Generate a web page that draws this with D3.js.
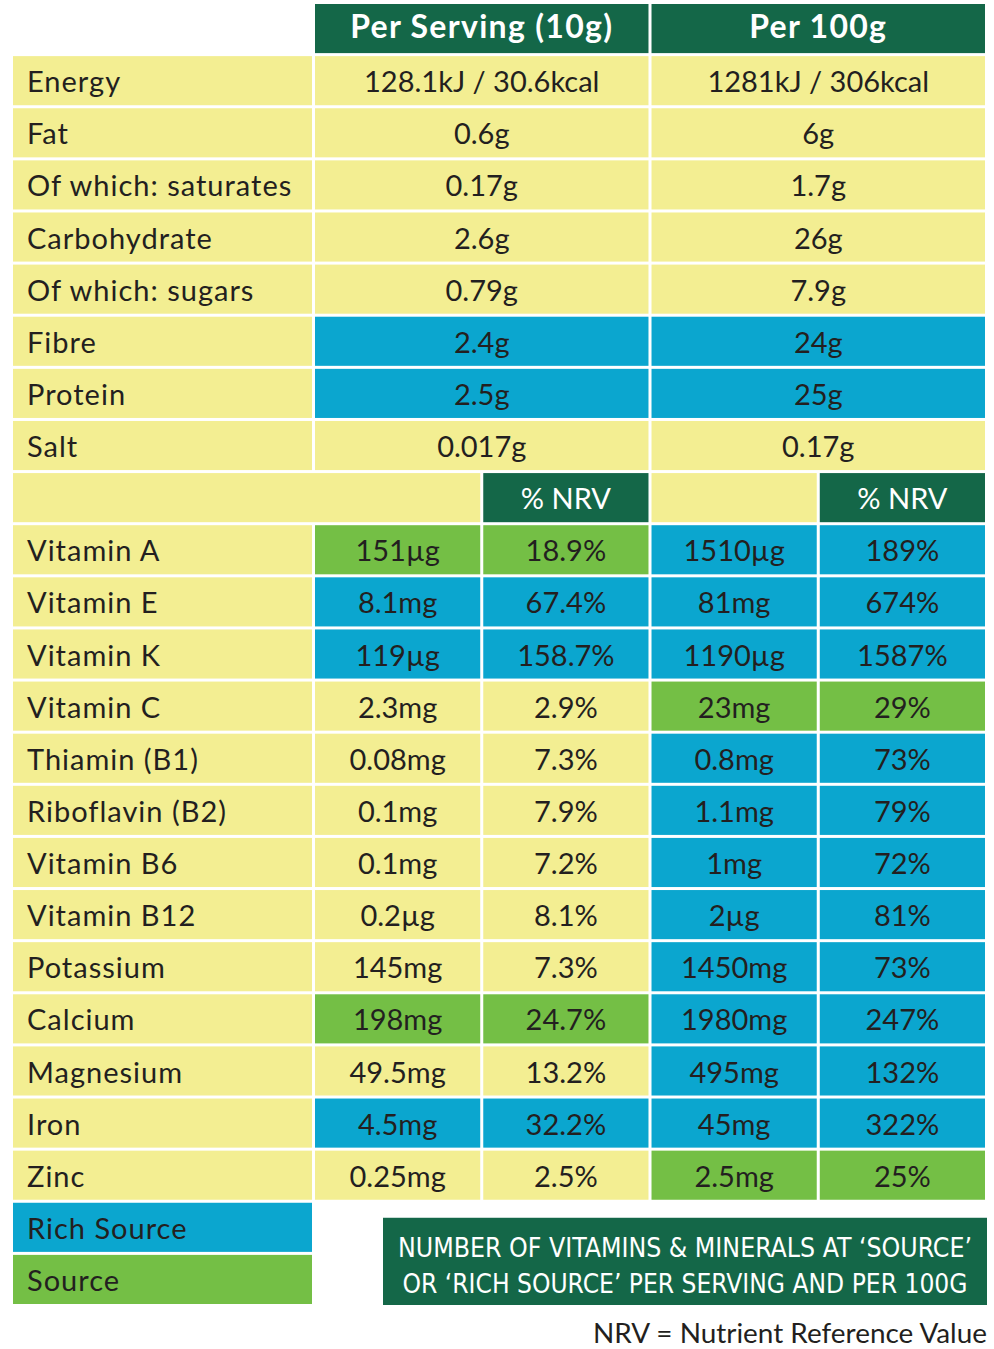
<!DOCTYPE html>
<html>
<head>
	<meta charset="utf-8">
	<script src="https://cdn.jsdelivr.net/npm/d3@7/dist/d3.min.js"></script>
	<style>
		body { margin: 0; background: #fff; }
		text { font-family: Lato, "Open Sans", sans-serif; fill: #231f20; }
		.head { fill: #fff; font-weight: bold; letter-spacing: 1.3px; }
		.nrv { fill: #fff; }
		.label { letter-spacing: 1px; }
		.box { fill: #fff; font-family: "Liberation Sans Narrow", "DejaVu Sans Condensed", sans-serif; }
	</style>
</head>
<body>
	<svg></svg>
	<script>

		// nutrition rows
		var nutrients = ["Energy", "Fat", "Of which: saturates", "Carbohydrate", "Of which: sugars", "Fibre", "Protein", "Salt"];
		var perServing = ["128.1kJ / 30.6kcal", "0.6g", "0.17g", "2.6g", "0.79g", "2.4g", "2.5g", "0.017g"];
		var per100g = ["1281kJ / 306kcal", "6g", "1.7g", "26g", "7.9g", "24g", "25g", "0.17g"];
		var nutrientLevel = ["", "", "", "", "", "rich", "rich", ""];

		// vitamins & minerals
		var vitamins = ["Vitamin A", "Vitamin E", "Vitamin K", "Vitamin C", "Thiamin (B1)", "Riboflavin (B2)", "Vitamin B6", "Vitamin B12", "Potassium", "Calcium", "Magnesium", "Iron", "Zinc"];
		var servingAmount = ["151\u00b5g", "8.1mg", "119\u00b5g", "2.3mg", "0.08mg", "0.1mg", "0.1mg", "0.2\u00b5g", "145mg", "198mg", "49.5mg", "4.5mg", "0.25mg"];
		var servingNrv = ["18.9%", "67.4%", "158.7%", "2.9%", "7.3%", "7.9%", "7.2%", "8.1%", "7.3%", "24.7%", "13.2%", "32.2%", "2.5%"];
		var servingLevel = ["source", "rich", "rich", "", "", "", "", "", "", "source", "", "rich", ""];
		var amount100g = ["1510\u00b5g", "81mg", "1190\u00b5g", "23mg", "0.8mg", "1.1mg", "1mg", "2\u00b5g", "1450mg", "1980mg", "495mg", "45mg", "2.5mg"];
		var nrv100g = ["189%", "674%", "1587%", "29%", "73%", "79%", "72%", "81%", "73%", "247%", "132%", "322%", "25%"];
		var level100g = ["rich", "rich", "rich", "source", "rich", "rich", "rich", "rich", "rich", "rich", "rich", "rich", "source"];

		var headers = ["Per Serving (10g)", "Per 100g"];
		var legend = [["Rich Source", "rich"], ["Source", "source"]];
		var boxLines = ["NUMBER OF VITAMINS & MINERALS AT \u2018SOURCE\u2019", "OR \u2018RICH SOURCE\u2019 PER SERVING AND PER 100G"];
		var footnote = "NRV = Nutrient Reference Value";

		var colors = { "": "#f3ee92", rich: "#0ba6cf", source: "#74bf45", dark: "#146748" };

		var width = 994, height = 1349;
		var svg = d3.select("svg").attr("width", width).attr("height", height);

		// rows: header, nutrients, nrv header, vitamins, legend
		var rowKeys = ["head"].concat(nutrients, ["nrv"], vitamins, legend.map(d => d[0]));
		var y = d3.scaleBand().domain(rowKeys).range([4, 4 + rowKeys.length * 52]).paddingInner(3 / 52);
		var x = d3.scaleBand().domain([0, 1, 2, 3]).range([315, 985]).paddingInner(0.018);
		var labelX0 = 13, labelX1 = 312;

		function cell(x0, x1, row, fill, txt, cls, anchor) {
			svg.append("rect").attr("x", x0).attr("y", y(row)).attr("width", x1 - x0).attr("height", y.bandwidth()).attr("fill", fill);
			if (txt) {
				svg.append("text")
					.attr("class", cls || null)
					.attr("x", anchor == "start" ? x0 + 14 : (x0 + x1) / 2)
					.attr("y", y(row) + y.bandwidth() - (cls == "head" ? 15 : 13))
					.attr("text-anchor", anchor || "middle")
					.attr("font-size", cls == "head" ? 32 : 29)
					.text(txt);
			}
		}
		function right(i) { return x(i) + x.bandwidth(); }

		// header
		headers.forEach((h, i) => cell(x(i * 2), right(i * 2 + 1), "head", colors.dark, h, "head"));

		nutrients.forEach((n, i) => {
			cell(labelX0, labelX1, n, colors[""], n, "label", "start");
			cell(x(0), right(1), n, colors[nutrientLevel[i]], perServing[i]);
			cell(x(2), right(3), n, colors[nutrientLevel[i]], per100g[i]);
		});

		cell(labelX0, right(0), "nrv", colors[""]);
		cell(x(1), right(1), "nrv", colors.dark, "% NRV", "nrv");
		cell(x(2), right(2), "nrv", colors[""]);
		cell(x(3), right(3), "nrv", colors.dark, "% NRV", "nrv");

		vitamins.forEach((v, i) => {
			cell(labelX0, labelX1, v, colors[""], v, "label", "start");
			cell(x(0), right(0), v, colors[servingLevel[i]], servingAmount[i]);
			cell(x(1), right(1), v, colors[servingLevel[i]], servingNrv[i]);
			cell(x(2), right(2), v, colors[level100g[i]], amount100g[i]);
			cell(x(3), right(3), v, colors[level100g[i]], nrv100g[i]);
		});

		legend.forEach(l => cell(labelX0, labelX1, l[0], colors[l[1]], l[0], "label", "start"));

		// summary box
		var boxTop = y("Rich Source") + 15, boxBottom = y("Source") + y.bandwidth() + 1;
		svg.append("rect").attr("x", 383).attr("y", boxTop).attr("width", 604).attr("height", boxBottom - boxTop).attr("fill", colors.dark);
		boxLines.forEach((t, i) => {
			svg.append("text").attr("class", "box")
				.attr("x", 685).attr("y", boxTop + 39 + i * 36)
				.attr("text-anchor", "middle").attr("font-size", 27)
				.attr("textLength", i ? 565 : 574).attr("lengthAdjust", "spacingAndGlyphs")
				.text(t);
		});

		svg.append("text")
			.attr("x", 987).attr("y", 1343)
			.attr("text-anchor", "end").attr("font-size", 27)
			.attr("textLength", 394).attr("lengthAdjust", "spacingAndGlyphs")
			.text(footnote);

	</script>
</body>
</html>
